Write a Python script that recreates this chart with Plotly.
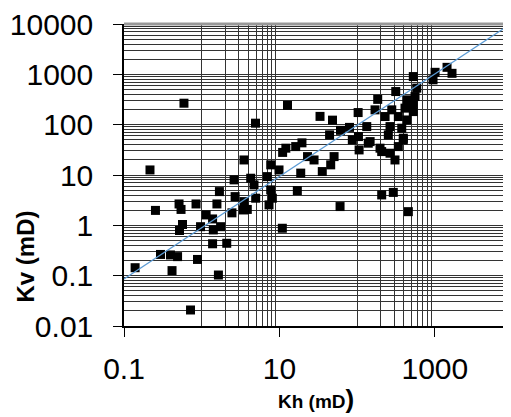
import plotly.graph_objects as go

# Horizontal permeability (mD)
kh = [0.139, 0.216, 0.254, 0.591, 0.511, 0.542, 0.845, 1.57, 1.69, 2.61, 2.69, 3.50,
      1.14, 1.38, 0.566, 0.518, 0.966, 1.41, 1.75, 2.45, 3.45, 1.38, 2.10, 0.295,
      0.396, 0.489, 0.883, 0.415, 1.64, 0.718, 12.7, 4.92, 33.3, 48.2, 103, 170,
      44.2, 61.1, 79.8, 86.7, 106, 19.5, 16.2, 12.1, 11.0, 23.0, 27.9, 50.5, 45.7,
      7.73, 9.88, 18.8, 35.6, 4.27, 4.71, 6.98, 17.0, 7.73, 8.11, 7.35, 4.95, 3.50,
      3.86, 60.3, 10.9, 528, 1007, 948, 1435, 1663, 314, 585, 184, 528, 435, 139,
      207, 265, 339, 393, 207, 292, 456, 307, 556, 504, 413, 279, 229, 339, 435,
      528, 265, 375, 252, 393, 133, 147, 104, 197]
# Vertical permeability (mD)
kv = [0.144, 12.6, 1.98, 267, 2.66, 2.07, 2.66, 2.66, 4.68, 8.0, 3.72, 19.9,
      1.61, 1.34, 1.04, 0.79, 0.94, 0.81, 0.94, 1.77, 2.02, 0.43, 0.44, 0.264,
      0.258, 0.239, 0.210, 0.126, 0.103, 0.0208, 242, 107, 146, 123, 174, 197,
      62.7, 77.1, 88.3, 49.9, 31.5, 43.5, 36.7, 34.1, 28.1, 23.2, 19.9, 23.2, 15.9,
      15.9, 12.6, 10.9, 11.7, 8.63, 6.35, 9.29, 4.90, 5.06, 3.46, 2.55, 3.46, 2.96,
      2.07, 2.36, 0.875, 903, 1097, 778, 1377, 1047, 455, 532, 318, 267, 311, 42.9,
      29.2, 27.1, 36.7, 49.9, 4.02, 4.51, 1.87, 19.9, 362, 248, 213, 197, 145, 145, 124,
      182, 91.6, 85.1, 62.7, 53.9, 91.6, 46.1, 58.0, 34.1]

# Reference line (approximately Kv = Kh)
line_x = [0.1, 10000]
line_y = [0.086, 10570]

# Axis ticks
x_ticks = [0.1, 10, 1000]
x_tick_text = ["0.1", "10", "1000"]
y_ticks = [0.01, 0.1, 1, 10, 100, 1000, 10000]
y_tick_text = ["0.01", "0.1", "1", "10", "100", "1000", "10000"]

# Grid positions (Excel-style minor gridlines)
x_grid = [k * m for m in [1, 100] for k in range(1, 10)]
y_grid = [k * 10.0 ** e for e in range(-2, 4) for k in range(1, 10)] + [10000]

FONT = "Liberation Sans, Arial, sans-serif"

# page body has an 8px margin; figure sized to fill the rest of the window
W, H = 503, 409
L, T, B = 116, 16, 91
PW, PH = W - L, H - T - B

fig = go.Figure()
fig.add_trace(go.Scatter(
    x=kh, y=kv, mode="markers",
    marker=dict(symbol="square", size=9, color="black", line=dict(width=0)),
    showlegend=False))
fig.add_trace(go.Scatter(
    x=line_x, y=line_y, mode="lines",
    line=dict(color="#5B9BD5", width=1.3),
    showlegend=False))

fig.update_layout(
    width=W, height=H,
    margin=dict(l=L, r=0, t=T, b=B, autoexpand=False),
    paper_bgcolor="white", plot_bgcolor="white",
    font=dict(family=FONT, color="black"),
    xaxis=dict(
        type="log", range=[-1, 3.98], automargin=False,
        tickmode="array", tickvals=x_ticks, ticktext=x_tick_text,
        ticks="outside", ticklen=9, tickwidth=1, tickcolor="black",
        tickfont=dict(size=30, family=FONT, color="black"),
        ticklabelstandoff=6, ticklabeloverflow="allow",
        showgrid=False, zeroline=False,
        showline=True, linecolor="black", linewidth=1.5,
        minor=dict(tickmode="array", tickvals=x_grid, showgrid=True,
                   gridcolor="#333333", gridwidth=1, ticks=""),
    ),
    yaxis=dict(
        type="log", range=[-2, 4], automargin=False,
        tickmode="array", tickvals=y_ticks, ticktext=y_tick_text,
        ticks="outside", ticklen=9, tickwidth=1, tickcolor="black",
        tickfont=dict(size=30, family=FONT, color="black"),
        ticklabelstandoff=14, ticklabeloverflow="allow",
        showgrid=False, zeroline=False,
        showline=True, linecolor="black", linewidth=1.5,
        minor=dict(tickmode="array", tickvals=y_grid, showgrid=True,
                   gridcolor="#333333", gridwidth=1, ticks=""),
    ),
    shapes=[dict(type="line", xref="paper", yref="paper", x0=0, x1=1, y0=1, y1=1,
                 line=dict(color="#999999", width=3), layer="above")],
    annotations=[
        dict(text="<b>Kv (mD)</b>", xref="paper", yref="paper",
             x=(16.5 - L) / PW, y=(318 - 249) / PH,
             xanchor="center", yanchor="middle", textangle=-90, showarrow=False,
             font=dict(size=24, family=FONT, color="black")),
        dict(text="<b>Kh (mD<span style='font-size:26px'>)</span></b>",
             xref="paper", yref="paper",
             x=(308 - L) / PW, y=-(391 - 318) / PH,
             xanchor="center", yanchor="middle", showarrow=False,
             font=dict(size=19, family=FONT, color="black")),
    ],
)

fig.write_html("out.html")
